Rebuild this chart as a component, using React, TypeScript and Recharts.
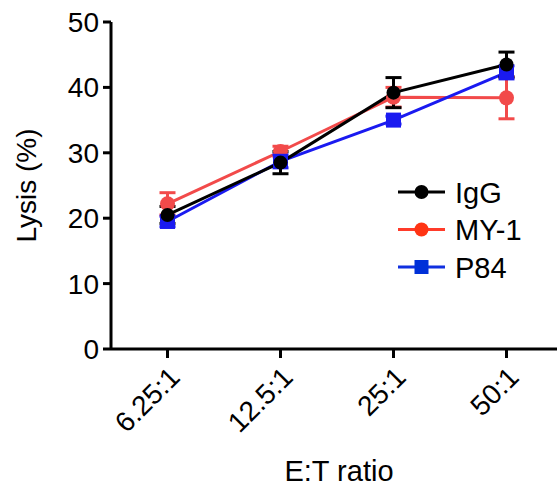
import { LineChart, Line, XAxis, YAxis, ErrorBar } from "recharts";

const categories = ["6.25:1", "12.5:1", "25:1", "50:1"];
const igg = [20.5, 28.5, 39.2, 43.5];
const iggErr = [1.3, 1.7, 2.3, 1.9];
const my1 = [22.2, 30.2, 38.5, 38.4];
const my1Err = [1.7, 0.8, 1.5, 3.2];
const p84 = [19.5, 28.7, 35.0, 42.3];
const p84Err = [0.8, 1.0, 0.6, 1.0];
const yTicks = [0, 10, 20, 30, 40, 50];

const data = categories.map((c, i) => ({
  name: c,
  igg: igg[i], iggErr: iggErr[i],
  my1: my1[i], my1Err: my1Err[i],
  p84: p84[i], p84Err: p84Err[i],
}));

const FONT = "'Liberation Sans', Arial, sans-serif";
const RED = "#f24a4a";
const BLUE = "#1a1af0";

const SquareDot = (props: any) => {
  const { cx, cy } = props;
  if (cx == null || cy == null) return null;
  return <rect x={cx - 7.5} y={cy - 7.5} width={15} height={15} fill={BLUE} />;
};

const legendItems = [
  { label: "IgG", color: "#000", marker: "#000", square: false },
  { label: "MY-1", color: "#ff3b2a", marker: "#ff3414", square: false },
  { label: "P84", color: "#1030e0", marker: "#0030d8", square: true },
];

function LegendBox() {
  return (
    <svg width={160} height={120} style={{ fontFamily: FONT, position: "absolute", left: 390, top: 170 }}>
      {legendItems.map((it, i) => {
        const y = 22 + i * 37.5;
        return (
          <g key={it.label}>
            <line x1={8} x2={55} y1={y} y2={y} stroke={it.color} strokeWidth={3} />
            {it.square
              ? <rect x={24.5} y={y - 7} width={14} height={14} fill={it.marker} />
              : <circle cx={31.5} cy={y} r={7} fill={it.marker} />}
            <text x={65} y={y + 10.5} fontSize={29} fill="#000">{it.label}</text>
          </g>
        );
      })}
    </svg>
  );
}

export default function App() {
  return (
    <div style={{ position: "absolute", left: 0, top: 0, width: 557, height: 490, background: "#fff" }}>
      <LineChart width={557} height={490} data={data}
        margin={{ top: 22, right: -6, bottom: 0, left: 0 }}
        style={{ fontFamily: FONT }}>
        <XAxis dataKey="name" height={141} interval={0} scale="band"
          axisLine={{ stroke: "#000", strokeWidth: 3 }}
          tickLine={{ stroke: "#000", strokeWidth: 3 }} tickSize={9}
          angle={-45} textAnchor="end" tickMargin={7}
          tick={{ fontSize: 28, fill: "#000", fontFamily: FONT }}
          label={{ value: "E:T ratio", position: "insideBottom", offset: 9, dx: 2, fontSize: 29, fill: "#000", fontFamily: FONT }} />
        <YAxis width={111} domain={[0, 50]} ticks={yTicks} interval={0}
          axisLine={{ stroke: "#000", strokeWidth: 3 }}
          tickLine={{ stroke: "#000", strokeWidth: 3 }} tickSize={8} tickMargin={4}
          tick={{ fontSize: 28, fill: "#000", fontFamily: FONT }}
          label={{ value: "Lysis (%)", angle: -90, position: "insideLeft", offset: 26, fontSize: 28, fill: "#000", fontFamily: FONT, style: { textAnchor: "middle" } }} />
        <Line dataKey="my1" stroke={RED} strokeWidth={3} isAnimationActive={false}
          dot={{ r: 7.5, fill: RED, stroke: RED, strokeWidth: 0 }}>
          <ErrorBar dataKey="my1Err" width={8} stroke={RED} strokeWidth={3} direction="y" />
        </Line>
        <Line dataKey="p84" stroke={BLUE} strokeWidth={3} isAnimationActive={false}
          dot={<SquareDot />}>
          <ErrorBar dataKey="p84Err" width={8} stroke={BLUE} strokeWidth={3} direction="y" />
        </Line>
        <Line dataKey="igg" stroke="#000" strokeWidth={3} isAnimationActive={false}
          dot={{ r: 7, fill: "#000", stroke: "#000", strokeWidth: 0 }}>
          <ErrorBar dataKey="iggErr" width={8} stroke="#000" strokeWidth={3} direction="y" />
        </Line>
      </LineChart>
      <LegendBox />
    </div>
  );
}
